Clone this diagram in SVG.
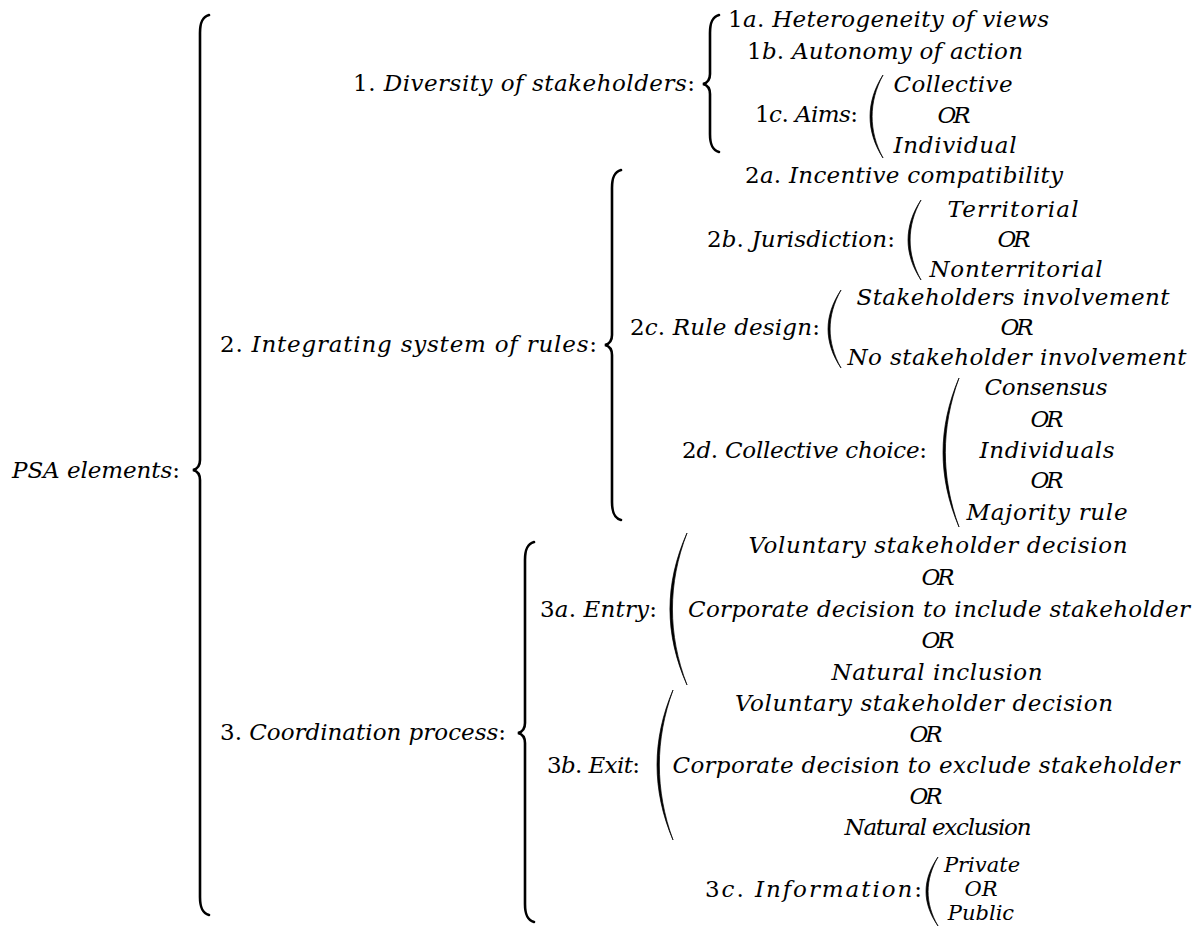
<svg xmlns="http://www.w3.org/2000/svg" width="1200" height="930" viewBox="0 0 1200 930">
<style>
text{font-family:"DejaVu Serif","Liberation Serif",serif;font-size:23px;font-style:italic;fill:#000}
.u{font-style:normal}
.s{font-size:21px}
.br{fill:none;stroke:#000;stroke-width:2.6;stroke-linecap:round}
.pa{fill:#000;stroke:#000;stroke-width:0.7;stroke-linejoin:round}
.c{text-anchor:middle}
</style>
<rect width="1200" height="930" fill="#fff"/>
<g id="connectors">
<path class="br" d="M209,15 C202,17 200,23 200,33 L200,460 C200,466 197,469 193,470 C197,471 200,474 200,480 L200,897 C200,907 202,913 209,915"/>
<path class="br" d="M719,15 C712,17 710,23 710,33 L710,74 C710,80 707,83 703,84 C707,85 710,88 710,94 L710,134 C710,144 712,150 719,152"/>
<path class="br" d="M621,170 C614,172 612,178 612,188 L612,335 C612,341 609,344 605,345 C609,346 612,349 612,355 L612,502 C612,512 614,518 621,520"/>
<path class="br" d="M534,542 C527,544 525,550 525,560 L525,723 C525,729 522,732 518,733 C522,734 525,737 525,743 L525,904 C525,914 527,920 534,922"/>
<path class="pa" d="M883,75 C865.7,102 865.7,131 883,158 C868.5,131 868.5,102 883,75 Z"/>
<path class="pa" d="M921,200 C903.7,226 903.7,254 921,280 C906.5,254 906.5,226 921,200 Z"/>
<path class="pa" d="M841,290 C823.7,316 823.7,342 841,368 C826.5,342 826.5,316 841,290 Z"/>
<path class="pa" d="M959,378 C937.7,428 937.7,477 959,527 C940.8,477 940.8,428 959,378 Z"/>
<path class="pa" d="M687,533 C664.3,584 664.3,634 687,685 C667.6,634 667.6,584 687,533 Z"/>
<path class="pa" d="M673,690 C651.7,740 651.7,790 673,840 C654.8,790 654.8,740 673,690 Z"/>
<path class="pa" d="M938,857 C922,880 922,903 938,926 C924.8,903 924.8,880 938,857 Z"/>
</g>
<g id="root"><text x="12" y="478" textLength="168">PSA elements<tspan class="u">:</tspan></text></g>
<g id="n1"><text x="353" y="91" textLength="342"><tspan class="u">1.</tspan> Diversity of stakeholders<tspan class="u">:</tspan></text></g>
<g id="n1a"><text x="728" y="27" textLength="321"><tspan class="u">1</tspan>a<tspan class="u">.</tspan> Heterogeneity of views</text></g>
<g id="n1b"><text x="747" y="59" textLength="276"><tspan class="u">1</tspan>b<tspan class="u">.</tspan> Autonomy of action</text></g>
<g id="n1c"><text x="755" y="122" textLength="103"><tspan class="u">1</tspan>c<tspan class="u">.</tspan> Aims<tspan class="u">:</tspan></text>
<text class="c" x="953" y="92" textLength="119">Collective</text>
<text class="c" x="954" y="123" textLength="33">OR</text>
<text class="c" x="955" y="153" textLength="123">Individual</text></g>
<g id="n2"><text x="220" y="352" textLength="377"><tspan class="u">2.</tspan> Integrating system of rules<tspan class="u">:</tspan></text></g>
<g id="n2a"><text x="745" y="183" textLength="318"><tspan class="u">2</tspan>a<tspan class="u">.</tspan> Incentive compatibility</text></g>
<g id="n2b"><text x="707" y="247" textLength="188"><tspan class="u">2</tspan>b<tspan class="u">.</tspan> Jurisdiction<tspan class="u">:</tspan></text>
<text class="c" x="1013" y="217" textLength="131">Territorial</text>
<text class="c" x="1014" y="247" textLength="33">OR</text>
<text class="c" x="1016" y="277" textLength="173">Nonterritorial</text></g>
<g id="n2c"><text x="630" y="335" textLength="190"><tspan class="u">2</tspan>c<tspan class="u">.</tspan> Rule design<tspan class="u">:</tspan></text>
<text class="c" x="1013" y="305" textLength="313">Stakeholders involvement</text>
<text class="c" x="1017" y="335" textLength="33">OR</text>
<text class="c" x="1017" y="365" textLength="339">No stakeholder involvement</text></g>
<g id="n2d"><text x="682" y="458" textLength="245"><tspan class="u">2</tspan>d<tspan class="u">.</tspan> Collective choice<tspan class="u">:</tspan></text>
<text class="c" x="1046" y="395" textLength="123">Consensus</text>
<text class="c" x="1047" y="427" textLength="33">OR</text>
<text class="c" x="1047" y="458" textLength="135">Individuals</text>
<text class="c" x="1047" y="488" textLength="33">OR</text>
<text class="c" x="1047" y="520" textLength="161">Majority rule</text></g>
<g id="n3"><text x="220" y="740" textLength="286"><tspan class="u">3.</tspan> Coordination process<tspan class="u">:</tspan></text></g>
<g id="n3a"><text x="540" y="617" textLength="117"><tspan class="u">3</tspan>a<tspan class="u">.</tspan> Entry<tspan class="u">:</tspan></text>
<text class="c" x="938" y="553" textLength="379">Voluntary stakeholder decision</text>
<text class="c" x="938" y="585" textLength="33">OR</text>
<text class="c" x="939" y="617" textLength="502">Corporate decision to include stakeholder</text>
<text class="c" x="938" y="648" textLength="33">OR</text>
<text class="c" x="937" y="680" textLength="211">Natural inclusion</text></g>
<g id="n3b"><text x="547" y="773" textLength="93"><tspan class="u">3</tspan>b<tspan class="u">.</tspan> Exit<tspan class="u">:</tspan></text>
<text class="c" x="924" y="711" textLength="378">Voluntary stakeholder decision</text>
<text class="c" x="926" y="742" textLength="33">OR</text>
<text class="c" x="926" y="773" textLength="507">Corporate decision to exclude stakeholder</text>
<text class="c" x="926" y="804" textLength="33">OR</text>
<text class="c" x="938" y="835" textLength="187">Natural exclusion</text></g>
<g id="n3c"><text x="705" y="897" textLength="217"><tspan class="u">3</tspan>c<tspan class="u">.</tspan> Information<tspan class="u">:</tspan></text>
<text class="c s" x="982" y="872">Private</text>
<text class="c s" x="981" y="896">OR</text>
<text class="c s" x="981" y="920">Public</text></g>
</svg>
